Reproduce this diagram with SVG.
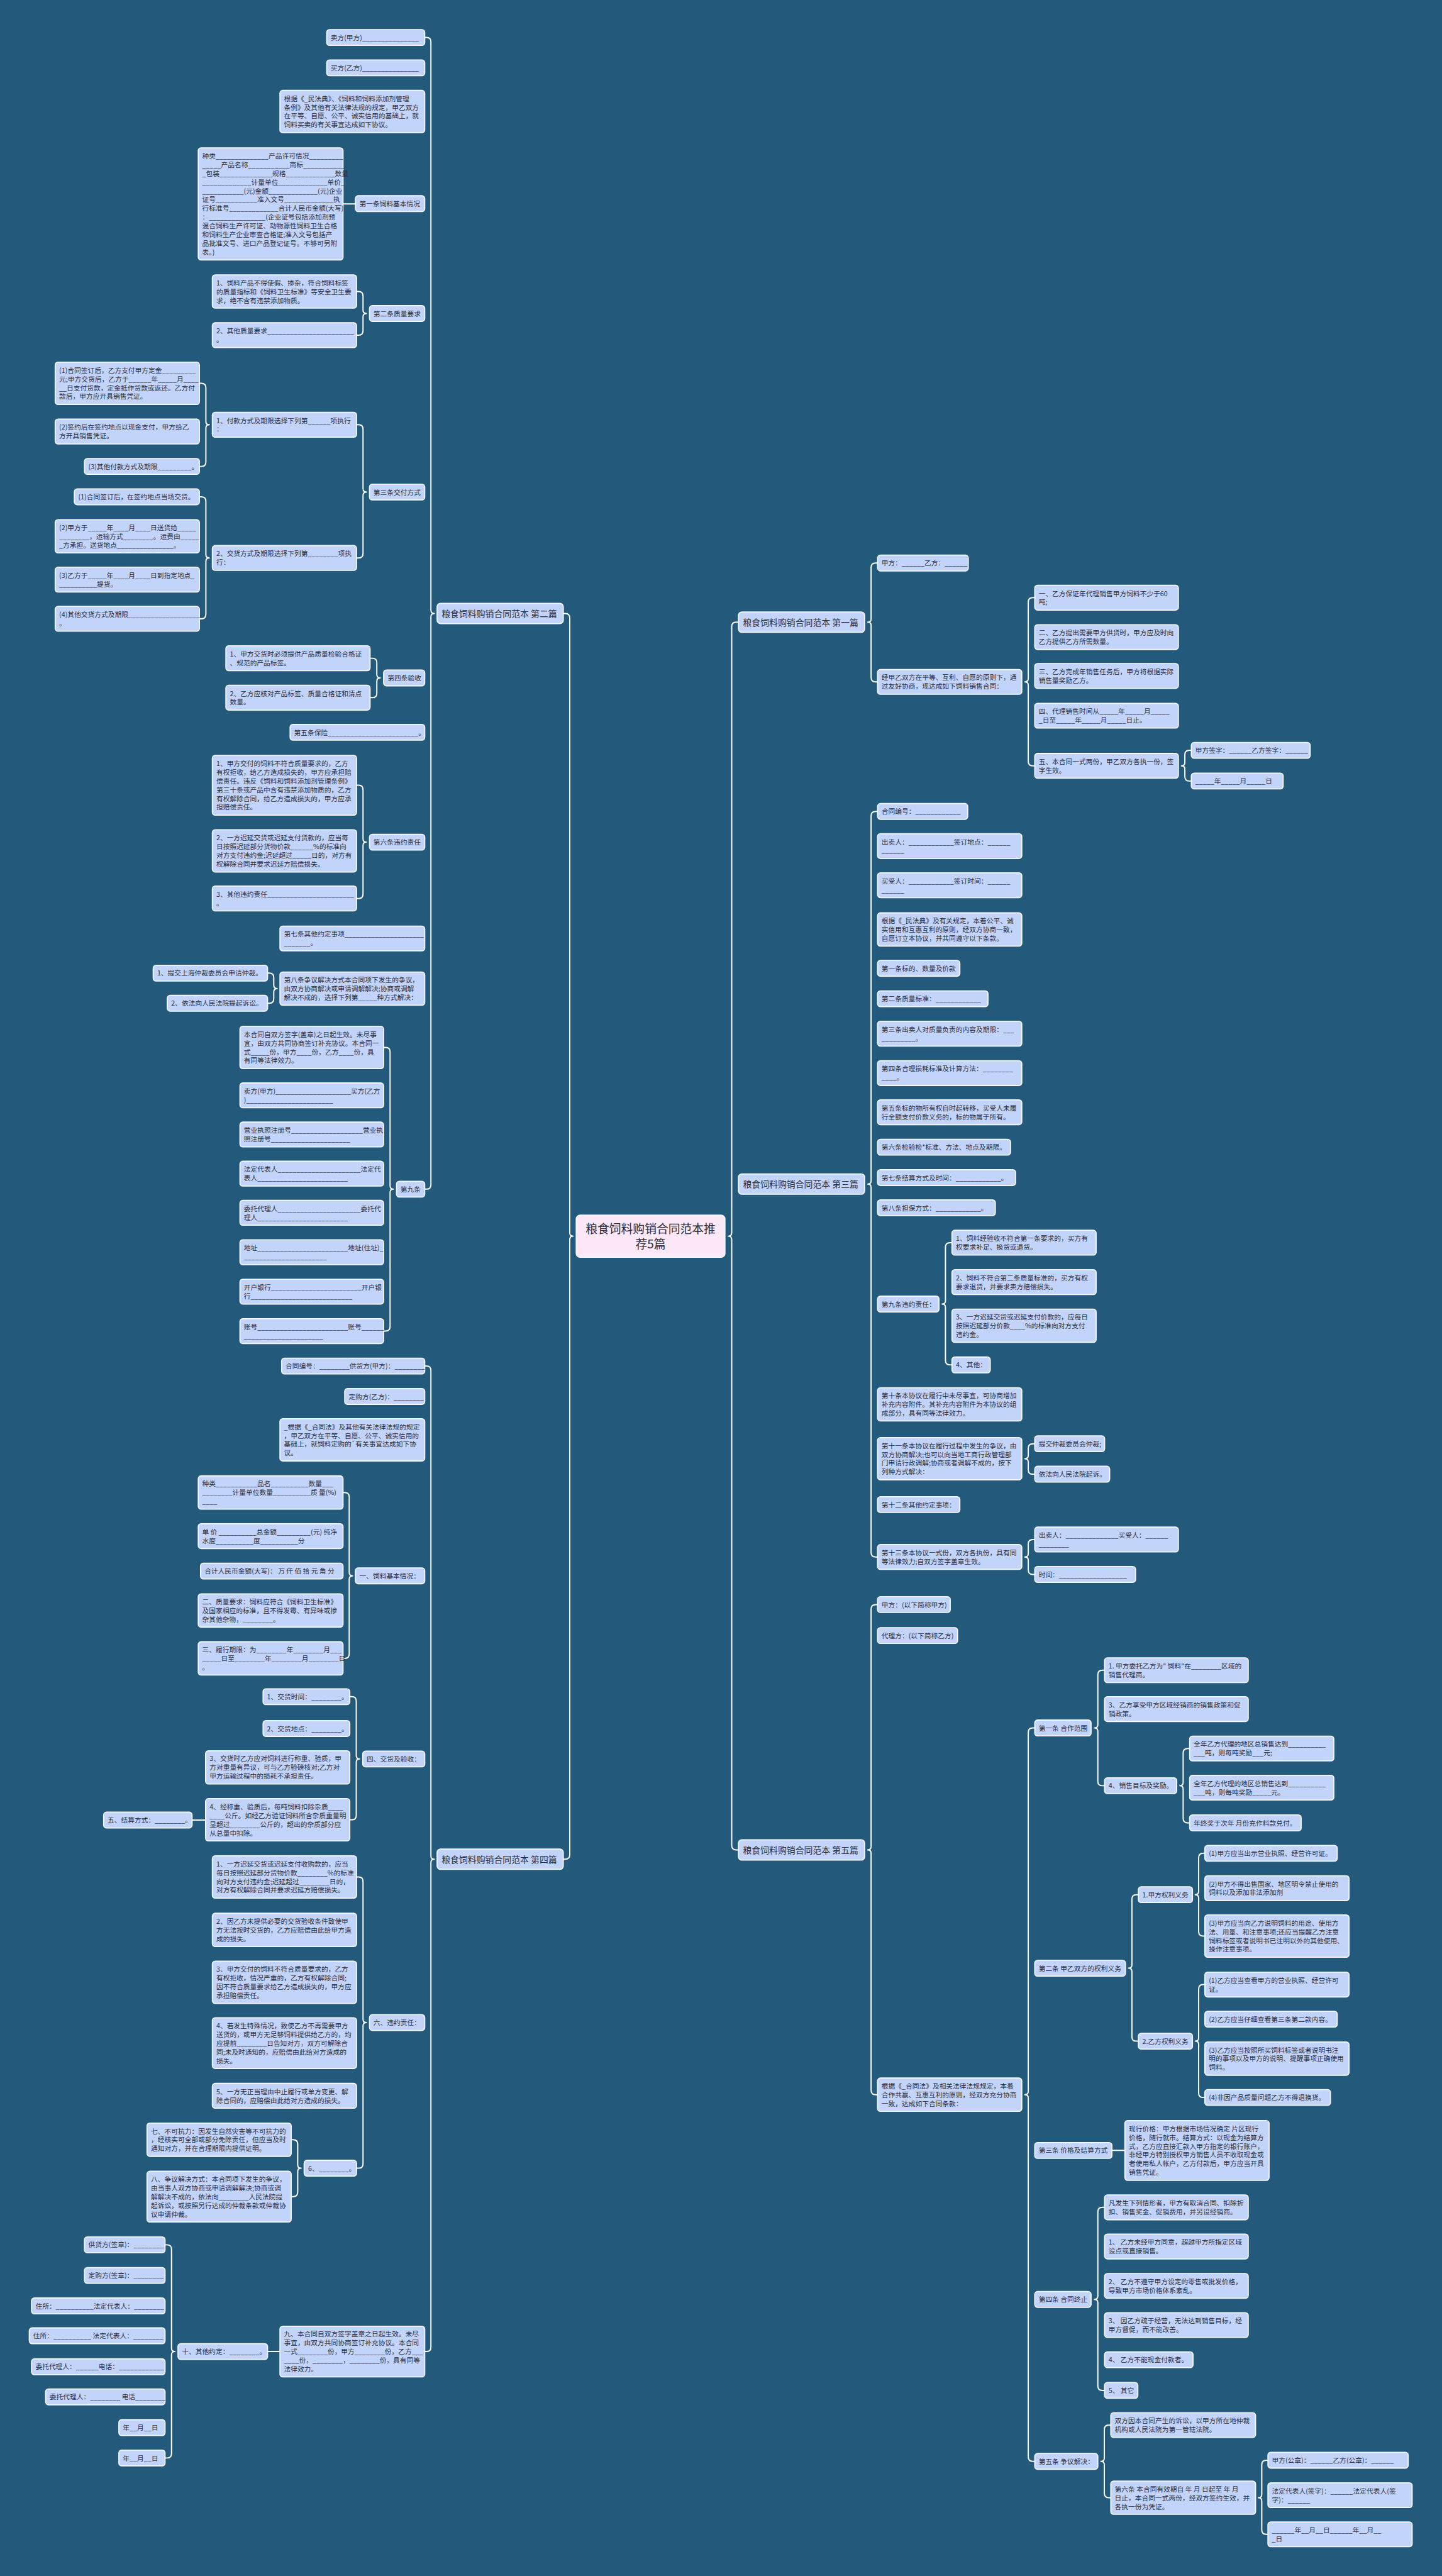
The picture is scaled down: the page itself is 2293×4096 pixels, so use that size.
<svg xmlns="http://www.w3.org/2000/svg" width="2293" height="4096" viewBox="0 0 2293 4096">
<style>
.n rect{fill:#c3d4fa;stroke:#f4f7ff;stroke-width:2}
.n text{font-family:"Noto Sans CJK SC","Noto Sans",sans-serif;font-size:12px;fill:#2a2d3a}
.l1 text{font-size:15.5px}
.c rect{fill:#fde8f7}
.c text{font-size:21px;text-anchor:middle}
.e path{fill:none;stroke:#ffffff;stroke-width:2.2;stroke-linecap:round;stroke-linejoin:round}
</style>
<rect width="2293" height="4096" fill="#235a7b"/>
<g transform="scale(0.8957)">
<g id="connectors" class="e">
<path d="M1000,1089 H1003.5 Q1011.5,1089 1011.5,1097 V2188.5 Q1011.5,2194.5 1017.5,2194.5 Q1011.5,2194.5 1011.5,2200.5 V3292.5 Q1011.5,3300.5 1003.5,3300.5 H1000"/>
<path d="M1311,1104.5 H1307 Q1299,1104.5 1299,1112.5 V2188.5 Q1299,2194.5 1293,2194.5 Q1299,2194.5 1299,2200.5 V3276 Q1299,3284 1307,3284 H1311"/>
<path d="M754,66.5 H757 Q765,66.5 765,74.5 V1083 Q765,1089 771,1089 Q765,1089 765,1095 V2103 Q765,2111 757,2111 H754"/>
<path d="M609,362 H631"/>
<path d="M633,517.5 H636.5 Q644.5,517.5 644.5,525.5 V550.5 Q644.5,556.5 650.5,556.5 Q644.5,556.5 644.5,562.5 V587 Q644.5,595 636.5,595 H633"/>
<path d="M633,754 H636.5 Q644.5,754 644.5,762 V867.5 Q644.5,873.5 650.5,873.5 Q644.5,873.5 644.5,879.5 V982.5 Q644.5,990.5 636.5,990.5 H633"/>
<path d="M354,680.5 H357.5 Q365.5,680.5 365.5,688.5 V748 Q365.5,754 371.5,754 Q365.5,754 365.5,760 V820 Q365.5,828 357.5,828 H354"/>
<path d="M354,882 H357.5 Q365.5,882 365.5,890 V984.5 Q365.5,990.5 371.5,990.5 Q365.5,990.5 365.5,996.5 V1090.5 Q365.5,1098.5 357.5,1098.5 H354"/>
<path d="M657,1168.5 H661 Q669,1168.5 669,1176.5 V1197.5 Q669,1203.5 675,1203.5 Q669,1203.5 669,1209.5 V1230.5 Q669,1238.5 661,1238.5 H657"/>
<path d="M633,1394 H636.5 Q644.5,1394 644.5,1402 V1489 Q644.5,1495 650.5,1495 Q644.5,1495 644.5,1501 V1587 Q644.5,1595 636.5,1595 H633"/>
<path d="M475,1727.5 H478 Q486,1727.5 486,1735.5 V1749 Q486,1755 492,1755 Q486,1755 486,1761 V1773 Q486,1781 478,1781 H475"/>
<path d="M681,1859.5 H684.5 Q692.5,1859.5 692.5,1867.5 V2105 Q692.5,2111 698.5,2111 Q692.5,2111 692.5,2117 V2355 Q692.5,2363 684.5,2363 H681"/>
<path d="M754,2425 H757 Q765,2425 765,2433 V3294.5 Q765,3300.5 771,3300.5 Q765,3300.5 765,3306.5 V4166.5 Q765,4174.5 757,4174.5 H754"/>
<path d="M609,2649.5 H612 Q620,2649.5 620,2657.5 V2791.5 Q620,2797.5 626,2797.5 Q620,2797.5 620,2803.5 V2936 Q620,2944 612,2944 H609"/>
<path d="M621,3012 H624.5 Q632.5,3012 632.5,3020 V3116.5 Q632.5,3122.5 638.5,3122.5 Q632.5,3122.5 632.5,3128.5 V3222.5 Q632.5,3230.5 624.5,3230.5 H621"/>
<path d="M341,3231 H365"/>
<path d="M633,3332 H636.5 Q644.5,3332 644.5,3340 V3584.5 Q644.5,3590.5 650.5,3590.5 Q644.5,3590.5 644.5,3596.5 V3841 Q644.5,3849 636.5,3849 H633"/>
<path d="M517,3798.5 H520.5 Q528.5,3798.5 528.5,3806.5 V3843 Q528.5,3849 534.5,3849 Q528.5,3849 528.5,3855 V3891.5 Q528.5,3899.5 520.5,3899.5 H517"/>
<path d="M475,4174.5 H497"/>
<path d="M293,3985 H296.5 Q304.5,3985 304.5,3993 V4168.5 Q304.5,4174.5 310.5,4174.5 Q304.5,4174.5 304.5,4180.5 V4355.5 Q304.5,4363.5 296.5,4363.5 H293"/>
<path d="M1558,999.5 H1554.5 Q1546.5,999.5 1546.5,1007.5 V1098.5 Q1546.5,1104.5 1540.5,1104.5 Q1546.5,1104.5 1546.5,1110.5 V1202.5 Q1546.5,1210.5 1554.5,1210.5 H1558"/>
<path d="M1837,1061 H1833.5 Q1825.5,1061 1825.5,1069 V1204.5 Q1825.5,1210.5 1819.5,1210.5 Q1825.5,1210.5 1825.5,1216.5 V1351.5 Q1825.5,1359.5 1833.5,1359.5 H1837"/>
<path d="M2115,1332 H2111.5 Q2103.5,1332 2103.5,1340 V1353.5 Q2103.5,1359.5 2097.5,1359.5 Q2103.5,1359.5 2103.5,1365.5 V1378.5 Q2103.5,1386.5 2111.5,1386.5 H2115"/>
<path d="M1558,1440.5 H1554.5 Q1546.5,1440.5 1546.5,1448.5 V2096 Q1546.5,2102 1540.5,2102 Q1546.5,2102 1546.5,2108 V2756 Q1546.5,2764 1554.5,2764 H1558"/>
<path d="M1690,2206 H1686.5 Q1678.5,2206 1678.5,2214 V2309 Q1678.5,2315 1672.5,2315 Q1678.5,2315 1678.5,2321 V2415 Q1678.5,2423 1686.5,2423 H1690"/>
<path d="M1837,2563 H1833.5 Q1825.5,2563 1825.5,2571 V2583.5 Q1825.5,2589.5 1819.5,2589.5 Q1825.5,2589.5 1825.5,2595.5 V2609 Q1825.5,2617 1833.5,2617 H1837"/>
<path d="M1837,2733 H1833.5 Q1825.5,2733 1825.5,2741 V2758 Q1825.5,2764 1819.5,2764 Q1825.5,2764 1825.5,2770 V2787 Q1825.5,2795 1833.5,2795 H1837"/>
<path d="M1558,2848.5 H1554.5 Q1546.5,2848.5 1546.5,2856.5 V3278 Q1546.5,3284 1540.5,3284 Q1546.5,3284 1546.5,3290 V3710.5 Q1546.5,3718.5 1554.5,3718.5 H1558"/>
<path d="M1837,3067.5 H1833.5 Q1825.5,3067.5 1825.5,3075.5 V3712.5 Q1825.5,3718.5 1819.5,3718.5 Q1825.5,3718.5 1825.5,3724.5 V4361.5 Q1825.5,4369.5 1833.5,4369.5 H1837"/>
<path d="M1961,2965 H1957 Q1949,2965 1949,2973 V3061.5 Q1949,3067.5 1943,3067.5 Q1949,3067.5 1949,3073.5 V3162 Q1949,3170 1957,3170 H1961"/>
<path d="M2112,3104 H2108.5 Q2100.5,3104 2100.5,3112 V3164 Q2100.5,3170 2094.5,3170 Q2100.5,3170 2100.5,3176 V3228 Q2100.5,3236 2108.5,3236 H2112"/>
<path d="M2021,3363.5 H2017.5 Q2009.5,3363.5 2009.5,3371.5 V3488 Q2009.5,3494 2003.5,3494 Q2009.5,3494 2009.5,3500 V3615.5 Q2009.5,3623.5 2017.5,3623.5 H2021"/>
<path d="M2139,3290 H2136 Q2128,3290 2128,3298 V3357.5 Q2128,3363.5 2122,3363.5 Q2128,3363.5 2128,3369.5 V3429 Q2128,3437 2136,3437 H2139"/>
<path d="M2139,3523 H2136 Q2128,3523 2128,3531 V3617.5 Q2128,3623.5 2122,3623.5 Q2128,3623.5 2128,3629.5 V3715.5 Q2128,3723.5 2136,3723.5 H2139"/>
<path d="M1974,3817.5 H1997"/>
<path d="M1961,3918.5 H1957 Q1949,3918.5 1949,3926.5 V4076 Q1949,4082 1943,4082 Q1949,4082 1949,4088 V4235.5 Q1949,4243.5 1957,4243.5 H1961"/>
<path d="M1972,4305 H1968.5 Q1960.5,4305 1960.5,4313 V4363.5 Q1960.5,4369.5 1954.5,4369.5 Q1960.5,4369.5 1960.5,4375.5 V4426 Q1960.5,4434 1968.5,4434 H1972"/>
<path d="M2251,4367.5 H2248 Q2240,4367.5 2240,4375.5 V4428 Q2240,4434 2234,4434 Q2240,4434 2240,4440 V4491 Q2240,4499 2248,4499 H2251"/>
</g>

<g id="center" class="n c"><rect x="1023" y="2157" width="264" height="75" rx="7"/><text x="1155" y="2189">粮食饲料购销合同范本推<tspan x="1155" dy="27">荐5篇</tspan></text></g>

<g id="p2" class="n l1"><rect x="776" y="1071" width="224" height="36" rx="6"/><text x="784" y="1094.9">粮食饲料购销合同范本 第二篇</text></g>
<g id="p2_1" class="n"><rect x="580" y="52.5" width="174" height="28" rx="5"/><text x="587" y="71.1">卖方(甲方)_______________</text></g>
<g id="p2_2" class="n"><rect x="580" y="106.5" width="174" height="28" rx="5"/><text x="587" y="125.1">买方(乙方)_______________</text></g>
<g id="p2_3" class="n"><rect x="497" y="160.5" width="257" height="75" rx="5"/><text x="504" y="179.35">根据《_民法典》、《饲料和饲料添加剂管理<tspan x="504" dy="15.5">条例》及其他有关法律法规的规定，甲乙双方</tspan><tspan x="504" dy="15.5">在平等、自愿、公平、诚实信用的基础上，就</tspan><tspan x="504" dy="15.5">饲料买卖的有关事宜达成如下协议。</tspan></text></g>
<g id="p2_4" class="n"><rect x="631" y="347.5" width="123" height="28" rx="5"/><text x="638" y="366.1">第一条饲料基本情况</text></g>
<g id="p2_4_1" class="n"><rect x="352" y="262.5" width="257" height="199" rx="5"/><text x="359" y="281.35">种类______________产品许可情况_________<tspan x="359" dy="15.5">_____产品名称___________商标___________</tspan><tspan x="359" dy="15.5">_包装______________规格_____________数量</tspan><tspan x="359" dy="15.5">_____________计量单位_____________单价_</tspan><tspan x="359" dy="15.5">___________(元)金额_____________(元)企业</tspan><tspan x="359" dy="15.5">证号___________准入文号_____________执</tspan><tspan x="359" dy="15.5">行标准号_____________合计人民币金额(大写)</tspan><tspan x="359" dy="15.5">：_______________(企业证号包括添加剂预</tspan><tspan x="359" dy="15.5">混合饲料生产许可证、动物源性饲料卫生合格</tspan><tspan x="359" dy="15.5">和饲料生产企业审查合格证;准入文号包括产</tspan><tspan x="359" dy="15.5">品批准文号、进口产品登记证号。不够可另附</tspan><tspan x="359" dy="15.5">表。)</tspan></text></g>
<g id="p2_5" class="n"><rect x="656" y="542.5" width="98" height="28" rx="5"/><text x="663" y="561.1">第二条质量要求</text></g>
<g id="p2_5_1" class="n"><rect x="377" y="488" width="256" height="59" rx="5"/><text x="384" y="506.6">1、饲料产品不得使假、掺杂，符合饲料标签<tspan x="384" dy="15.5">的质量指标和《饲料卫生标准》等安全卫生要</tspan><tspan x="384" dy="15.5">求，绝不含有违禁添加物质。</tspan></text></g>
<g id="p2_5_2" class="n"><rect x="377" y="573" width="256" height="44" rx="5"/><text x="384" y="591.85">2、其他质量要求_______________________<tspan x="384" dy="15.5">。</tspan></text></g>
<g id="p2_6" class="n"><rect x="656" y="859.5" width="98" height="28" rx="5"/><text x="663" y="878.1">第三条交付方式</text></g>
<g id="p2_6_1" class="n"><rect x="377" y="732" width="256" height="44" rx="5"/><text x="384" y="750.85">1、付款方式及期限选择下列第______项执行<tspan x="384" dy="15.5">：</tspan></text></g>
<g id="p2_6_1_1" class="n"><rect x="98" y="643" width="256" height="75" rx="5"/><text x="105" y="661.85">(1)合同签订后，乙方支付甲方定金_________<tspan x="105" dy="15.5">元;甲方交货后，乙方于______年_____月____</tspan><tspan x="105" dy="15.5">__日支付货款，定金抵作货款或返还。乙方付</tspan><tspan x="105" dy="15.5">款后，甲方应开具销售凭证。</tspan></text></g>
<g id="p2_6_1_2" class="n"><rect x="98" y="744" width="256" height="44" rx="5"/><text x="105" y="762.85">(2)签约后在签约地点以现金支付，甲方给乙<tspan x="105" dy="15.5">方开具销售凭证。</tspan></text></g>
<g id="p2_6_1_3" class="n"><rect x="150" y="814" width="204" height="28" rx="5"/><text x="157" y="832.6">(3)其他付款方式及期限_________。</text></g>
<g id="p2_6_2" class="n"><rect x="377" y="968.5" width="256" height="44" rx="5"/><text x="384" y="987.35">2、交货方式及期限选择下列第________项执<tspan x="384" dy="15.5">行：</tspan></text></g>
<g id="p2_6_2_1" class="n"><rect x="132" y="868" width="222" height="28" rx="5"/><text x="139" y="886.6">(1)合同签订后，在签约地点当场交货。</text></g>
<g id="p2_6_2_2" class="n"><rect x="98" y="922.5" width="256" height="59" rx="5"/><text x="105" y="941.1">(2)甲方于_____年____月____日送货给_____<tspan x="105" dy="15.5">________，运输方式________。运费由_____</tspan><tspan x="105" dy="15.5">_方承担。送货地点_______________。</tspan></text></g>
<g id="p2_6_2_3" class="n"><rect x="98" y="1007" width="256" height="44" rx="5"/><text x="105" y="1025.85">(3)乙方于_____年____月____日到指定地点_<tspan x="105" dy="15.5">__________提货。</tspan></text></g>
<g id="p2_6_2_4" class="n"><rect x="98" y="1076.5" width="256" height="44" rx="5"/><text x="105" y="1095.35">(4)其他交货方式及期限___________________<tspan x="105" dy="15.5">。</tspan></text></g>
<g id="p2_7" class="n"><rect x="681" y="1189.5" width="73" height="28" rx="5"/><text x="688" y="1208.1">第四条验收</text></g>
<g id="p2_7_1" class="n"><rect x="401" y="1146.5" width="256" height="44" rx="5"/><text x="408" y="1165.35">1、甲方交货时必须提供产品质量检验合格证<tspan x="408" dy="15.5">、规范的产品标签。</tspan></text></g>
<g id="p2_7_2" class="n"><rect x="401" y="1216.5" width="256" height="44" rx="5"/><text x="408" y="1235.35">2、乙方应核对产品标签、质量合格证和清点<tspan x="408" dy="15.5">数量。</tspan></text></g>
<g id="p2_8" class="n"><rect x="515" y="1286" width="239" height="28" rx="5"/><text x="522" y="1304.6">第五条保险________________________。</text></g>
<g id="p2_9" class="n"><rect x="656" y="1481" width="98" height="28" rx="5"/><text x="663" y="1499.6">第六条违约责任</text></g>
<g id="p2_9_1" class="n"><rect x="377" y="1341" width="256" height="106" rx="5"/><text x="384" y="1359.85">1、甲方交付的饲料不符合质量要求的，乙方<tspan x="384" dy="15.5">有权拒收，给乙方造成损失的，甲方应承担赔</tspan><tspan x="384" dy="15.5">偿责任。违反《饲料和饲料添加剂管理条例》</tspan><tspan x="384" dy="15.5">第三十条或产品中含有违禁添加物质的，乙方</tspan><tspan x="384" dy="15.5">有权解除合同，给乙方造成损失的，甲方应承</tspan><tspan x="384" dy="15.5">担赔偿责任。</tspan></text></g>
<g id="p2_9_2" class="n"><rect x="377" y="1473" width="256" height="75" rx="5"/><text x="384" y="1491.85">2、一方迟延交货或迟延支付货款的，应当每<tspan x="384" dy="15.5">日按照迟延部分货物价款______%的标准向</tspan><tspan x="384" dy="15.5">对方支付违约金;迟延超过_____日的，对方有</tspan><tspan x="384" dy="15.5">权解除合同并要求迟延方赔偿损失。</tspan></text></g>
<g id="p2_9_3" class="n"><rect x="377" y="1573" width="256" height="44" rx="5"/><text x="384" y="1591.85">3、其他违约责任_______________________<tspan x="384" dy="15.5">。</tspan></text></g>
<g id="p2_10" class="n"><rect x="497" y="1644" width="257" height="44" rx="5"/><text x="504" y="1662.85">第七条其他约定事项_____________________<tspan x="504" dy="15.5">_______。</tspan></text></g>
<g id="p2_11" class="n"><rect x="497" y="1725.5" width="257" height="59" rx="5"/><text x="504" y="1744.1">第八条争议解决方式本合同项下发生的争议，<tspan x="504" dy="15.5">由双方协商解决或申请调解解决;协商或调解</tspan><tspan x="504" dy="15.5">解决不成的，选择下列第_____种方式解决：</tspan></text></g>
<g id="p2_11_1" class="n"><rect x="272" y="1713.5" width="203" height="28" rx="5"/><text x="279" y="1732.1">1、提交上海仲裁委员会申请仲裁。</text></g>
<g id="p2_11_2" class="n"><rect x="297" y="1767" width="178" height="28" rx="5"/><text x="304" y="1785.6">2、依法向人民法院提起诉讼。</text></g>
<g id="p2_12" class="n"><rect x="704" y="2097" width="50" height="28" rx="5"/><text x="711" y="2115.6">第九条</text></g>
<g id="p2_12_1" class="n"><rect x="426" y="1822" width="255" height="75" rx="5"/><text x="433" y="1840.85">本合同自双方签字(盖章)之日起生效。未尽事<tspan x="433" dy="15.5">宜，由双方共同协商签订补充协议。本合同一</tspan><tspan x="433" dy="15.5">式_____份，甲方____份，乙方____份，具</tspan><tspan x="433" dy="15.5">有同等法律效力。</tspan></text></g>
<g id="p2_12_2" class="n"><rect x="426" y="1922.5" width="255" height="44" rx="5"/><text x="433" y="1941.35">卖方(甲方)____________________买方(乙方<tspan x="433" dy="15.5">)_______________________</tspan></text></g>
<g id="p2_12_3" class="n"><rect x="426" y="1992" width="255" height="44" rx="5"/><text x="433" y="2010.85">营业执照注册号___________________营业执<tspan x="433" dy="15.5">照注册号_____________________</tspan></text></g>
<g id="p2_12_4" class="n"><rect x="426" y="2061.5" width="255" height="44" rx="5"/><text x="433" y="2080.35">法定代表人______________________法定代<tspan x="433" dy="15.5">表人________________________</tspan></text></g>
<g id="p2_12_5" class="n"><rect x="426" y="2131" width="255" height="44" rx="5"/><text x="433" y="2149.85">委托代理人______________________委托代<tspan x="433" dy="15.5">理人________________________</tspan></text></g>
<g id="p2_12_6" class="n"><rect x="426" y="2201" width="255" height="44" rx="5"/><text x="433" y="2219.85">地址________________________地址(住址)_<tspan x="433" dy="15.5">______________________</tspan></text></g>
<g id="p2_12_7" class="n"><rect x="426" y="2271" width="255" height="44" rx="5"/><text x="433" y="2289.85">开户银行________________________开户银<tspan x="433" dy="15.5">行___________________________</tspan></text></g>
<g id="p2_12_8" class="n"><rect x="426" y="2341" width="255" height="44" rx="5"/><text x="433" y="2359.85">账号________________________账号______<tspan x="433" dy="15.5">_____________________</tspan></text></g>

<g id="p4" class="n l1"><rect x="776" y="3282.5" width="224" height="36" rx="6"/><text x="784" y="3306.4">粮食饲料购销合同范本 第四篇</text></g>
<g id="p4_1" class="n"><rect x="500" y="2411" width="254" height="28" rx="5"/><text x="507" y="2429.6">合同编号：________供货方(甲方)：________</text></g>
<g id="p4_2" class="n"><rect x="612" y="2465" width="142" height="28" rx="5"/><text x="619" y="2483.6">定购方(乙方)：________</text></g>
<g id="p4_3" class="n"><rect x="497" y="2518.5" width="257" height="75" rx="5"/><text x="504" y="2537.35">_根据《_合同法》及其他有关法律法规的规定<tspan x="504" dy="15.5">，甲乙双方在平等、自愿、公平、诚实信用的</tspan><tspan x="504" dy="15.5">基础上，就饲料定购的`有关事宜达成如下协</tspan><tspan x="504" dy="15.5">议。</tspan></text></g>
<g id="p4_4" class="n"><rect x="631" y="2783.5" width="123" height="28" rx="5"/><text x="638" y="2802.1">一、饲料基本情况：</text></g>
<g id="p4_4_1" class="n"><rect x="352" y="2620" width="257" height="59" rx="5"/><text x="359" y="2638.6">种类___________品名__________数量___<tspan x="359" dy="15.5">________计量单位数量__________质 量(%)</tspan><tspan x="359" dy="15.5">____</tspan></text></g>
<g id="p4_4_2" class="n"><rect x="352" y="2705" width="257" height="44" rx="5"/><text x="359" y="2723.85">单 价 __________总金额_________(元) 纯净<tspan x="359" dy="15.5">水度__________度__________分</tspan></text></g>
<g id="p4_4_3" class="n"><rect x="356" y="2775" width="253" height="28" rx="5"/><text x="363" y="2793.6">合计人民币金额(大写)： 万 仟 佰 拾 元 角 分</text></g>
<g id="p4_4_4" class="n"><rect x="352" y="2829.5" width="257" height="59" rx="5"/><text x="359" y="2848.1">二、质量要求：饲料应符合《饲料卫生标准》<tspan x="359" dy="15.5">及国家相应的标准，且不得发霉、有异味或掺</tspan><tspan x="359" dy="15.5">杂其他杂物，________。</tspan></text></g>
<g id="p4_4_5" class="n"><rect x="352" y="2914.5" width="257" height="59" rx="5"/><text x="359" y="2933.1">三、履行期限：为________年________月___<tspan x="359" dy="15.5">_____日至________年________月________日</tspan><tspan x="359" dy="15.5">。</tspan></text></g>
<g id="p4_5" class="n"><rect x="644" y="3108.5" width="110" height="28" rx="5"/><text x="651" y="3127.1">四、交货及验收：</text></g>
<g id="p4_5_1" class="n"><rect x="467" y="2998" width="154" height="28" rx="5"/><text x="474" y="3016.6">1、交货时间：________。</text></g>
<g id="p4_5_2" class="n"><rect x="467" y="3054.5" width="154" height="28" rx="5"/><text x="474" y="3073.1">2、交货地点：________。</text></g>
<g id="p4_5_3" class="n"><rect x="365" y="3108" width="256" height="59" rx="5"/><text x="372" y="3126.6">3、交货时乙方应对饲料进行称重、验质，甲<tspan x="372" dy="15.5">方对重量有异议，可与乙方验磅核对;乙方对</tspan><tspan x="372" dy="15.5">甲方运输过程中的损耗不承担责任。</tspan></text></g>
<g id="p4_5_4" class="n"><rect x="365" y="3193" width="256" height="75" rx="5"/><text x="372" y="3211.85">4、经称重、验质后，每吨饲料扣除杂质____<tspan x="372" dy="15.5">____公斤。如经乙方验证饲料所含杂质重量明</tspan><tspan x="372" dy="15.5">显超过________公斤的，超出的杂质部分应</tspan><tspan x="372" dy="15.5">从总量中扣除。</tspan></text></g>
<g id="p4_5_4_1" class="n"><rect x="184" y="3217" width="157" height="28" rx="5"/><text x="191" y="3235.6">五、结算方式：________。</text></g>
<g id="p4_6" class="n"><rect x="656" y="3576.5" width="98" height="28" rx="5"/><text x="663" y="3595.1">六、违约责任：</text></g>
<g id="p4_6_1" class="n"><rect x="377" y="3294.5" width="256" height="75" rx="5"/><text x="384" y="3313.35">1、一方迟延交货或迟延支付收购款的，应当<tspan x="384" dy="15.5">每日按照迟延部分货物价款________%的标准</tspan><tspan x="384" dy="15.5">向对方支付违约金;迟延超过________日的，</tspan><tspan x="384" dy="15.5">对方有权解除合同并要求迟延方赔偿损失。</tspan></text></g>
<g id="p4_6_2" class="n"><rect x="377" y="3396.5" width="256" height="59" rx="5"/><text x="384" y="3415.1">2、因乙方未提供必要的交货验收条件致使甲<tspan x="384" dy="15.5">方无法按时交货的，乙方应赔偿由此给甲方造</tspan><tspan x="384" dy="15.5">成的损失。</tspan></text></g>
<g id="p4_6_3" class="n"><rect x="377" y="3481.5" width="256" height="75" rx="5"/><text x="384" y="3500.35">3、甲方交付的饲料不符合质量要求的，乙方<tspan x="384" dy="15.5">有权拒收，情况严重的，乙方有权解除合同;</tspan><tspan x="384" dy="15.5">因不符合质量要求给乙方造成损失的，甲方应</tspan><tspan x="384" dy="15.5">承担赔偿责任。</tspan></text></g>
<g id="p4_6_4" class="n"><rect x="377" y="3582" width="256" height="90" rx="5"/><text x="384" y="3600.6">4、若发生特殊情况，致使乙方不再需要甲方<tspan x="384" dy="15.5">送货的，或甲方无足够饲料提供给乙方的，均</tspan><tspan x="384" dy="15.5">应提前________日告知对方，双方可解除合</tspan><tspan x="384" dy="15.5">同;未及时通知的，应赔偿由此给对方造成的</tspan><tspan x="384" dy="15.5">损失。</tspan></text></g>
<g id="p4_6_5" class="n"><rect x="377" y="3698.5" width="256" height="44" rx="5"/><text x="384" y="3717.35">5、一方无正当理由中止履行或单方变更、解<tspan x="384" dy="15.5">除合同的，应赔偿由此给对方造成的损失。</tspan></text></g>
<g id="p4_6_6" class="n"><rect x="540" y="3835" width="93" height="28" rx="5"/><text x="547" y="3853.6">6、________。</text></g>
<g id="p4_6_6_1" class="n"><rect x="261" y="3769" width="256" height="59" rx="5"/><text x="268" y="3787.6">七、不可抗力：因发生自然灾害等不可抗力的<tspan x="268" dy="15.5">，经核实可全部或部分免除责任，但应当及时</tspan><tspan x="268" dy="15.5">通知对方，并在合理期限内提供证明。</tspan></text></g>
<g id="p4_6_6_2" class="n"><rect x="261" y="3854.5" width="256" height="90" rx="5"/><text x="268" y="3873.1">八、争议解决方式：本合同项下发生的争议，<tspan x="268" dy="15.5">由当事人双方协商或申请调解解决;协商或调</tspan><tspan x="268" dy="15.5">解解决不成的，依法向________人民法院提</tspan><tspan x="268" dy="15.5">起诉讼，或按照另行达成的仲裁条款或仲裁协</tspan><tspan x="268" dy="15.5">议申请仲裁。</tspan></text></g>
<g id="p4_7" class="n"><rect x="497" y="4129.5" width="257" height="90" rx="5"/><text x="504" y="4148.1">九、本合同自双方签字盖章之日起生效。未尽<tspan x="504" dy="15.5">事宜，由双方共同协商签订补充协议。本合同</tspan><tspan x="504" dy="15.5">一式________份，甲方________份，乙方___</tspan><tspan x="504" dy="15.5">____份，________，________份，具有同等</tspan><tspan x="504" dy="15.5">法律效力。</tspan></text></g>
<g id="p4_7_1" class="n"><rect x="316" y="4160.5" width="159" height="28" rx="5"/><text x="323" y="4179.1">十、其他约定：________。</text></g>
<g id="p4_7_1_1" class="n"><rect x="150" y="3971" width="143" height="28" rx="5"/><text x="157" y="3989.6">供货方(签章)：________</text></g>
<g id="p4_7_1_2" class="n"><rect x="150" y="4025.5" width="143" height="28" rx="5"/><text x="157" y="4044.1">定购方(签章)：________</text></g>
<g id="p4_7_1_3" class="n"><rect x="56" y="4079.5" width="237" height="28" rx="5"/><text x="63" y="4098.1">住所：__________法定代表人：________</text></g>
<g id="p4_7_1_4" class="n"><rect x="52" y="4132.5" width="241" height="28" rx="5"/><text x="59" y="4151.1">住所：__________ 法定代表人：________</text></g>
<g id="p4_7_1_5" class="n"><rect x="56" y="4187.5" width="237" height="28" rx="5"/><text x="63" y="4206.1">委托代理人：______电话：____________</text></g>
<g id="p4_7_1_6" class="n"><rect x="81" y="4241" width="212" height="28" rx="5"/><text x="88" y="4259.6">委托代理人：________ 电话________</text></g>
<g id="p4_7_1_7" class="n"><rect x="211" y="4295.5" width="82" height="28" rx="5"/><text x="218" y="4314.1">年__月__日</text></g>
<g id="p4_7_1_8" class="n"><rect x="211" y="4349.5" width="82" height="28" rx="5"/><text x="218" y="4368.1">年__月__日</text></g>

<g id="p1" class="n l1"><rect x="1311" y="1086.5" width="224" height="36" rx="6"/><text x="1319" y="1110.4">粮食饲料购销合同范本 第一篇</text></g>
<g id="p1_1" class="n"><rect x="1558" y="985.5" width="161" height="28" rx="5"/><text x="1565" y="1004.1">甲方：______乙方：______</text></g>
<g id="p1_2" class="n"><rect x="1558" y="1188.5" width="256" height="44" rx="5"/><text x="1565" y="1207.35">经甲乙双方在平等、互利、自愿的原则下，通<tspan x="1565" dy="15.5">过友好协商，现达成如下饲料销售合同：</tspan></text></g>
<g id="p1_2_1" class="n"><rect x="1837" y="1039" width="255" height="44" rx="5"/><text x="1844" y="1057.85">一、乙方保证年代理销售甲方饲料不少于60<tspan x="1844" dy="15.5">吨;</tspan></text></g>
<g id="p1_2_2" class="n"><rect x="1837" y="1109" width="255" height="44" rx="5"/><text x="1844" y="1127.85">二、乙方提出需要甲方供货时，甲方应及时向<tspan x="1844" dy="15.5">乙方提供乙方所需数量。</tspan></text></g>
<g id="p1_2_3" class="n"><rect x="1837" y="1178" width="255" height="44" rx="5"/><text x="1844" y="1196.85">三、乙方完成年销售任务后，甲方将根据实际<tspan x="1844" dy="15.5">销售量奖励乙方。</tspan></text></g>
<g id="p1_2_4" class="n"><rect x="1837" y="1248.5" width="255" height="44" rx="5"/><text x="1844" y="1267.35">四、代理销售时间从_____年_____月_____<tspan x="1844" dy="15.5">_日至_____年_____月_____日止。</tspan></text></g>
<g id="p1_2_5" class="n"><rect x="1837" y="1337.5" width="255" height="44" rx="5"/><text x="1844" y="1356.35">五、本合同一式两份，甲乙双方各执一份，签<tspan x="1844" dy="15.5">字生效。</tspan></text></g>
<g id="p1_2_5_1" class="n"><rect x="2115" y="1318" width="211" height="28" rx="5"/><text x="2122" y="1336.6">甲方签字：______乙方签字：______</text></g>
<g id="p1_2_5_2" class="n"><rect x="2115" y="1372.5" width="163" height="28" rx="5"/><text x="2122" y="1391.1">_____年_____月_____日</text></g>

<g id="p3" class="n l1"><rect x="1311" y="2084" width="224" height="36" rx="6"/><text x="1319" y="2107.9">粮食饲料购销合同范本 第三篇</text></g>
<g id="p3_1" class="n"><rect x="1558" y="1426.5" width="160" height="28" rx="5"/><text x="1565" y="1445.1">合同编号：____________</text></g>
<g id="p3_2" class="n"><rect x="1558" y="1480" width="256" height="44" rx="5"/><text x="1565" y="1498.85">出卖人：____________签订地点：______<tspan x="1565" dy="15.5">______</tspan></text></g>
<g id="p3_3" class="n"><rect x="1558" y="1549.5" width="256" height="44" rx="5"/><text x="1565" y="1568.35">买受人：____________签订时间：______<tspan x="1565" dy="15.5">______</tspan></text></g>
<g id="p3_4" class="n"><rect x="1558" y="1620.5" width="256" height="59" rx="5"/><text x="1565" y="1639.1">根据《_民法典》及有关规定，本着公平、诚<tspan x="1565" dy="15.5">实信用和互惠互利的原则，经双方协商一致，</tspan><tspan x="1565" dy="15.5">自愿订立本协议，并共同遵守以下条款。</tspan></text></g>
<g id="p3_5" class="n"><rect x="1558" y="1705" width="146" height="28" rx="5"/><text x="1565" y="1723.6">第一条标的、数量及价款</text></g>
<g id="p3_6" class="n"><rect x="1558" y="1759" width="196" height="28" rx="5"/><text x="1565" y="1777.6">第二条质量标准：____________</text></g>
<g id="p3_7" class="n"><rect x="1558" y="1813" width="256" height="44" rx="5"/><text x="1565" y="1831.85">第三条出卖人对质量负责的内容及期限：___<tspan x="1565" dy="15.5">_________。</tspan></text></g>
<g id="p3_8" class="n"><rect x="1558" y="1883" width="256" height="44" rx="5"/><text x="1565" y="1901.85">第四条合理损耗标准及计算方法：________<tspan x="1565" dy="15.5">____。</tspan></text></g>
<g id="p3_9" class="n"><rect x="1558" y="1952.5" width="256" height="44" rx="5"/><text x="1565" y="1971.35">第五条标的物所有权自时起转移，买受人未履<tspan x="1565" dy="15.5">行全额支付价款义务的，标的物属于所有。</tspan></text></g>
<g id="p3_10" class="n"><rect x="1558" y="2022.5" width="236" height="28" rx="5"/><text x="1565" y="2041.1">第六条检验检*标准、方法、地点及期限。</text></g>
<g id="p3_11" class="n"><rect x="1558" y="2076.5" width="245" height="28" rx="5"/><text x="1565" y="2095.1">第七条结算方式及时间：____________。</text></g>
<g id="p3_12" class="n"><rect x="1558" y="2130" width="209" height="28" rx="5"/><text x="1565" y="2148.6">第八条担保方式：____________。</text></g>
<g id="p3_13" class="n"><rect x="1558" y="2301" width="109" height="28" rx="5"/><text x="1565" y="2319.6">第九条违约责任：</text></g>
<g id="p3_13_1" class="n"><rect x="1690" y="2184" width="256" height="44" rx="5"/><text x="1697" y="2202.85">1、饲料经验收不符合第一条要求的，买方有<tspan x="1697" dy="15.5">权要求补足、换货或退货。</tspan></text></g>
<g id="p3_13_2" class="n"><rect x="1690" y="2254" width="256" height="44" rx="5"/><text x="1697" y="2272.85">2、饲料不符合第二条质量标准的，买方有权<tspan x="1697" dy="15.5">要求退货，并要求卖方赔偿损失。</tspan></text></g>
<g id="p3_13_3" class="n"><rect x="1690" y="2324" width="256" height="59" rx="5"/><text x="1697" y="2342.6">3、一方迟延交货或迟延支付价款的，应每日<tspan x="1697" dy="15.5">按照迟延部分价款____%的标准向对方支付</tspan><tspan x="1697" dy="15.5">违约金。</tspan></text></g>
<g id="p3_13_4" class="n"><rect x="1690" y="2409" width="68" height="28" rx="5"/><text x="1697" y="2427.6">4、其他：</text></g>
<g id="p3_14" class="n"><rect x="1558" y="2463.5" width="256" height="59" rx="5"/><text x="1565" y="2482.1">第十条本协议在履行中未尽事宜，可协商增加<tspan x="1565" dy="15.5">补充内容附件。其补充内容附件为本协议的组</tspan><tspan x="1565" dy="15.5">成部分，具有同等法律效力。</tspan></text></g>
<g id="p3_15" class="n"><rect x="1558" y="2552" width="256" height="75" rx="5"/><text x="1565" y="2570.85">第十一条本协议在履行过程中发生的争议，由<tspan x="1565" dy="15.5">双方协商解决;也可以向当地工商行政管理部</tspan><tspan x="1565" dy="15.5">门申请行政调解;协商或者调解不成的，按下</tspan><tspan x="1565" dy="15.5">列种方式解决：</tspan></text></g>
<g id="p3_15_1" class="n"><rect x="1837" y="2549" width="124" height="28" rx="5"/><text x="1844" y="2567.6">提交仲裁委员会仲裁;</text></g>
<g id="p3_15_2" class="n"><rect x="1837" y="2603" width="133" height="28" rx="5"/><text x="1844" y="2621.6">依法向人民法院起诉。</text></g>
<g id="p3_16" class="n"><rect x="1558" y="2657" width="146" height="28" rx="5"/><text x="1565" y="2675.6">第十二条其他约定事项：</text></g>
<g id="p3_17" class="n"><rect x="1558" y="2742" width="256" height="44" rx="5"/><text x="1565" y="2760.85">第十三条本协议一式份，双方各执份，具有同<tspan x="1565" dy="15.5">等法律效力;自双方签字盖章生效。</tspan></text></g>
<g id="p3_17_1" class="n"><rect x="1837" y="2711" width="255" height="44" rx="5"/><text x="1844" y="2729.85">出卖人：______________买受人：______<tspan x="1844" dy="15.5">________</tspan></text></g>
<g id="p3_17_2" class="n"><rect x="1837" y="2781" width="179" height="28" rx="5"/><text x="1844" y="2799.6">时间：__________________</text></g>

<g id="p5" class="n l1"><rect x="1311" y="3266" width="224" height="36" rx="6"/><text x="1319" y="3289.9">粮食饲料购销合同范本 第五篇</text></g>
<g id="p5_1" class="n"><rect x="1558" y="2834.5" width="129" height="28" rx="5"/><text x="1565" y="2853.1">甲方：(以下简称甲方)</text></g>
<g id="p5_2" class="n"><rect x="1558" y="2889.5" width="142" height="28" rx="5"/><text x="1565" y="2908.1">代理方：(以下简称乙方)</text></g>
<g id="p5_3" class="n"><rect x="1558" y="3689" width="256" height="59" rx="5"/><text x="1565" y="3707.6">根据《_合同法》及相关法律法规规定，本着<tspan x="1565" dy="15.5">合作共赢、互惠互利的原则，经双方充分协商</tspan><tspan x="1565" dy="15.5">一致，达成如下合同条款：</tspan></text></g>
<g id="p5_3_1" class="n"><rect x="1837" y="3053.5" width="100" height="28" rx="5"/><text x="1844" y="3072.1">第一条 合作范围</text></g>
<g id="p5_3_1_1" class="n"><rect x="1961" y="2943" width="255" height="44" rx="5"/><text x="1968" y="2961.85">1. 甲方委托乙方为" 饲料"在________区域的<tspan x="1968" dy="15.5">销售代理商。</tspan></text></g>
<g id="p5_3_1_2" class="n"><rect x="1961" y="3012" width="255" height="44" rx="5"/><text x="1968" y="3030.85">3、乙方享受甲方区域经销商的销售政策和促<tspan x="1968" dy="15.5">销政策。</tspan></text></g>
<g id="p5_3_1_3" class="n"><rect x="1961" y="3156" width="128" height="28" rx="5"/><text x="1968" y="3174.6">4、销售目标及奖励。</text></g>
<g id="p5_3_1_3_1" class="n"><rect x="2112" y="3082" width="256" height="44" rx="5"/><text x="2119" y="3100.85">全年乙方代理的地区总销售达到__________<tspan x="2119" dy="15.5">___吨，则每吨奖励___元;</tspan></text></g>
<g id="p5_3_1_3_2" class="n"><rect x="2112" y="3151.5" width="256" height="44" rx="5"/><text x="2119" y="3170.35">全年乙方代理的地区总销售达到__________<tspan x="2119" dy="15.5">___吨，则每吨奖励_____元。</tspan></text></g>
<g id="p5_3_1_3_3" class="n"><rect x="2112" y="3222" width="198" height="28" rx="5"/><text x="2119" y="3240.6">年终奖于次年 月份充作料款兑付。</text></g>
<g id="p5_3_2" class="n"><rect x="1837" y="3480" width="161" height="28" rx="5"/><text x="1844" y="3498.6">第二条 甲乙双方的权利义务</text></g>
<g id="p5_3_2_1" class="n"><rect x="2021" y="3349.5" width="96" height="28" rx="5"/><text x="2028" y="3368.1">1.甲方权利义务</text></g>
<g id="p5_3_2_1_1" class="n"><rect x="2139" y="3276" width="235" height="28" rx="5"/><text x="2146" y="3294.6">(1)甲方应当出示营业执照、经营许可证。</text></g>
<g id="p5_3_2_1_2" class="n"><rect x="2139" y="3330" width="256" height="44" rx="5"/><text x="2146" y="3348.85">(2)甲方不得出售国家、地区明令禁止使用的<tspan x="2146" dy="15.5">饲料以及添加非法添加剂</tspan></text></g>
<g id="p5_3_2_1_3" class="n"><rect x="2139" y="3399.5" width="256" height="75" rx="5"/><text x="2146" y="3418.35">(3)甲方应当向乙方说明饲料的用途、使用方<tspan x="2146" dy="15.5">法、用量、和注意事项;还应当提醒乙方注意</tspan><tspan x="2146" dy="15.5">饲料标签或者说明书已注明以外的其他使用、</tspan><tspan x="2146" dy="15.5">操作注意事项。</tspan></text></g>
<g id="p5_3_2_2" class="n"><rect x="2021" y="3609.5" width="96" height="28" rx="5"/><text x="2028" y="3628.1">2.乙方权利义务</text></g>
<g id="p5_3_2_2_1" class="n"><rect x="2139" y="3501" width="256" height="44" rx="5"/><text x="2146" y="3519.85">(1)乙方应当查看甲方的营业执照、经营许可<tspan x="2146" dy="15.5">证。</tspan></text></g>
<g id="p5_3_2_2_2" class="n"><rect x="2139" y="3570.5" width="235" height="28" rx="5"/><text x="2146" y="3589.1">(2)乙方应当仔细查看第三条第二款内容。</text></g>
<g id="p5_3_2_2_3" class="n"><rect x="2139" y="3625" width="256" height="59" rx="5"/><text x="2146" y="3643.6">(3)乙方应当按照所买饲料标签或者说明书注<tspan x="2146" dy="15.5">明的事项以及甲方的说明、提醒事项正确使用</tspan><tspan x="2146" dy="15.5">饲料。</tspan></text></g>
<g id="p5_3_2_2_4" class="n"><rect x="2139" y="3709.5" width="223" height="28" rx="5"/><text x="2146" y="3728.1">(4)非因产品质量问题乙方不得退换货。</text></g>
<g id="p5_3_3" class="n"><rect x="1837" y="3803.5" width="137" height="28" rx="5"/><text x="1844" y="3822.1">第三条 价格及结算方式</text></g>
<g id="p5_3_3_1" class="n"><rect x="1997" y="3764.5" width="256" height="106" rx="5"/><text x="2004" y="3783.35">现行价格：甲方根据市场情况确定 片区现行<tspan x="2004" dy="15.5">价格，随行就市。结算方式：以现金为结算方</tspan><tspan x="2004" dy="15.5">式，乙方应直接汇款入甲方指定的银行账户，</tspan><tspan x="2004" dy="15.5">非经甲方特别授权甲方销售人员不收取现金或</tspan><tspan x="2004" dy="15.5">者使用私人帐户，乙方付款后，甲方应当开具</tspan><tspan x="2004" dy="15.5">销售凭证。</tspan></text></g>
<g id="p5_3_4" class="n"><rect x="1837" y="4068" width="100" height="28" rx="5"/><text x="1844" y="4086.6">第四条 合同终止</text></g>
<g id="p5_3_4_1" class="n"><rect x="1961" y="3896.5" width="255" height="44" rx="5"/><text x="1968" y="3915.35">凡发生下列情形者，甲方有取消合同、扣除折<tspan x="1968" dy="15.5">扣、销售奖金、促销费用，并另设经销商。</tspan></text></g>
<g id="p5_3_4_2" class="n"><rect x="1961" y="3966" width="255" height="44" rx="5"/><text x="1968" y="3984.85">1、 乙方未经甲方同意，超越甲方所指定区域<tspan x="1968" dy="15.5">设点或直接销售。</tspan></text></g>
<g id="p5_3_4_3" class="n"><rect x="1961" y="4036" width="255" height="44" rx="5"/><text x="1968" y="4054.85">2、 乙方不遵守甲方设定的零售或批发价格，<tspan x="1968" dy="15.5">导致甲方市场价格体系紊乱。</tspan></text></g>
<g id="p5_3_4_4" class="n"><rect x="1961" y="4105.5" width="255" height="44" rx="5"/><text x="1968" y="4124.35">3、 因乙方疏于经营，无法达到销售目标，经<tspan x="1968" dy="15.5">甲方督促，而不能改善。</tspan></text></g>
<g id="p5_3_4_5" class="n"><rect x="1961" y="4175" width="157" height="28" rx="5"/><text x="1968" y="4193.6">4、 乙方不能现金付款者。</text></g>
<g id="p5_3_4_6" class="n"><rect x="1961" y="4229.5" width="59" height="28" rx="5"/><text x="1968" y="4248.1">5、 其它</text></g>
<g id="p5_3_5" class="n"><rect x="1837" y="4355.5" width="112" height="28" rx="5"/><text x="1844" y="4374.1">第五条 争议解决：</text></g>
<g id="p5_3_5_1" class="n"><rect x="1972" y="4283" width="257" height="44" rx="5"/><text x="1979" y="4301.85">双方因本合同产生的诉讼，以甲方所在地仲裁<tspan x="1979" dy="15.5">机构或人民法院为第一管辖法院。</tspan></text></g>
<g id="p5_3_5_2" class="n"><rect x="1972" y="4404.5" width="257" height="59" rx="5"/><text x="1979" y="4423.1">第六条 本合同有效期自 年 月 日起至 年 月<tspan x="1979" dy="15.5">日止，本合同一式两份，经双方签约生效，并</tspan><tspan x="1979" dy="15.5">各执一份为凭证。</tspan></text></g>
<g id="p5_3_5_2_1" class="n"><rect x="2251" y="4353.5" width="249" height="28" rx="5"/><text x="2258" y="4372.1">甲方(公章)：______乙方(公章)：______</text></g>
<g id="p5_3_5_2_2" class="n"><rect x="2251" y="4407.5" width="256" height="44" rx="5"/><text x="2258" y="4426.35">法定代表人(签字)：______法定代表人(签<tspan x="2258" dy="15.5">字)：______</tspan></text></g>
<g id="p5_3_5_2_3" class="n"><rect x="2251" y="4477" width="256" height="44" rx="5"/><text x="2258" y="4495.85">______年__月__日______年__月__<tspan x="2258" dy="15.5">_日</tspan></text></g>
</g>
</svg>
